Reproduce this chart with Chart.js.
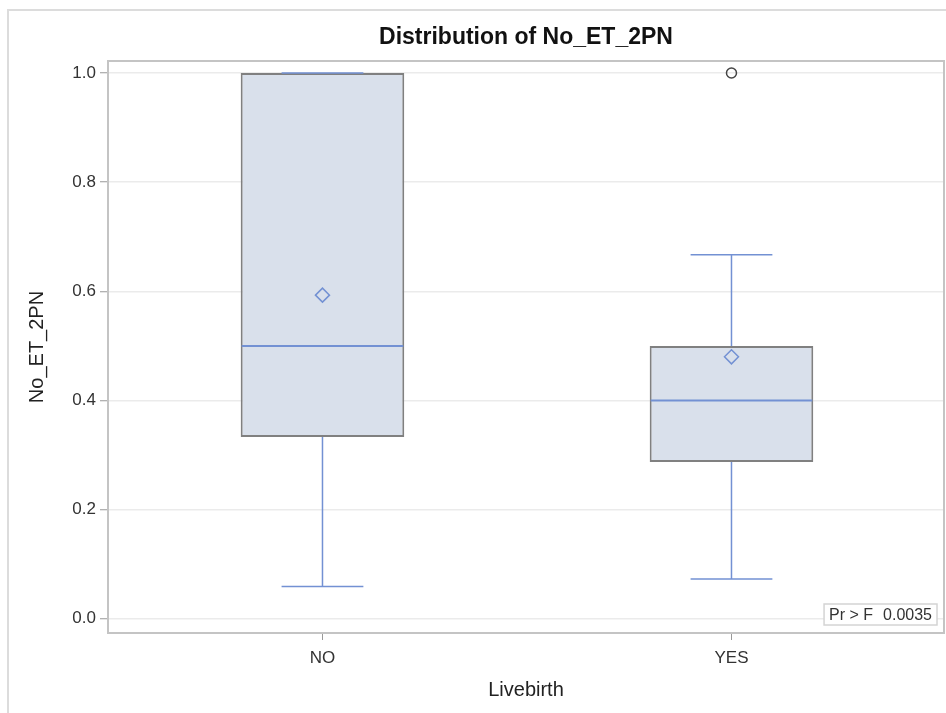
<!DOCTYPE html>
<html>
<head>
<meta charset="utf-8">
<script src="https://cdn.jsdelivr.net/npm/chart.js@4/dist/chart.umd.min.js"></script>
<style>
  html, body { margin: 0; padding: 0; background: #fff; }
  #wrap { position: relative; width: 946px; height: 713px; overflow: hidden; }
  #frame {
    position: absolute; left: 7px; top: 9px; width: 960px; height: 720px;
    border-top: 2px solid #dcdcdc; border-left: 2px solid #dcdcdc;
  }
  #boxChart { position: absolute; left: 0; top: 0; }
</style>
</head>
<body>
<div id="wrap">
  <div id="frame"></div>
  <canvas id="boxChart" width="946" height="713"></canvas>
</div>
<script>
// values
const groups = ["NO", "YES"];
const q1 = [0.333, 0.2875];
const q3 = [1.0, 0.5];
const medians = [0.5, 0.4];
const means = [0.593, 0.48];
const whiskerLow = [0.059, 0.073];
const whiskerHigh = [1.0, 0.667];
const outliers = [null, 1.0];
const yTicks = [0.0, 0.2, 0.4, 0.6, 0.8, 1.0];
const insetLabel = "Pr > F";
const insetValue = "0.0035";

const lineBlue = "#7391d3";
const fontFamily = "'Liberation Sans', Arial, sans-serif";

// whiskers, caps and median lines, drawn right after the boxes
const boxLinesPlugin = {
  id: "boxLines",
  afterDatasetDraw: (chart, args) => {
    if (args.meta.type !== "bar") return;
    const ctx = chart.ctx;
    const x = chart.scales.x;
    const y = chart.scales.y;
    ctx.save();
    ctx.strokeStyle = lineBlue;
    groups.forEach((g, i) => {
      const cx = x.getPixelForValue(i);
      const half = args.meta.data[i].width / 2;
      const cap = half * 0.5;
      // median
      ctx.lineWidth = 2;
      ctx.beginPath();
      ctx.moveTo(cx - half + 1, y.getPixelForValue(medians[i]));
      ctx.lineTo(cx + half - 1, y.getPixelForValue(medians[i]));
      ctx.stroke();
      // whiskers and caps
      ctx.lineWidth = 1.5;
      ctx.beginPath();
      ctx.moveTo(cx, y.getPixelForValue(q1[i]));
      ctx.lineTo(cx, y.getPixelForValue(whiskerLow[i]));
      ctx.moveTo(cx - cap, y.getPixelForValue(whiskerLow[i]));
      ctx.lineTo(cx + cap, y.getPixelForValue(whiskerLow[i]));
      ctx.moveTo(cx, y.getPixelForValue(q3[i]));
      ctx.lineTo(cx, y.getPixelForValue(whiskerHigh[i]));
      ctx.moveTo(cx - cap, y.getPixelForValue(whiskerHigh[i]));
      ctx.lineTo(cx + cap, y.getPixelForValue(whiskerHigh[i]));
      ctx.stroke();
    });
    ctx.restore();
  },
};

// plot frame and the Pr > F inset
const frameInsetPlugin = {
  id: "frameInset",
  afterDraw: (chart) => {
    const ctx = chart.ctx;
    const { left, right, top, bottom } = chart.chartArea;
    ctx.save();
    ctx.strokeStyle = "#c4c4c4";
    ctx.lineWidth = 2;
    ctx.strokeRect(left, top, right - left, bottom - top);

    ctx.font = "16px " + fontFamily;
    const w1 = ctx.measureText(insetLabel).width;
    const w2 = ctx.measureText(insetValue).width;
    const gap = 10;
    const boxW = w1 + gap + w2 + 10;
    const boxH = 21;
    const bx = right - 7 - boxW;
    const by = bottom - 8 - boxH;
    ctx.fillStyle = "#fff";
    ctx.fillRect(bx, by, boxW, boxH);
    ctx.strokeStyle = "#d4d4d4";
    ctx.lineWidth = 1.5;
    ctx.strokeRect(bx, by, boxW, boxH);
    ctx.fillStyle = "#333";
    ctx.textBaseline = "middle";
    ctx.fillText(insetLabel, bx + 5, by + boxH / 2 + 1);
    ctx.fillText(insetValue, bx + 5 + w1 + gap, by + boxH / 2 + 1);
    ctx.restore();
  },
};

const ctx = document.getElementById("boxChart").getContext("2d");
new Chart(ctx, {
  data: {
    datasets: [
      {
        type: "bar",
        label: "IQR",
        data: groups.map((g, i) => ({ x: i, y: [q1[i], q3[i]] })),
        backgroundColor: "#d9e0eb",
        borderColor: "#808080",
        borderWidth: 2,
        borderSkipped: false,
        barPercentage: 0.4,
        categoryPercentage: 1,
        order: 3,
      },
      {
        type: "line",
        label: "Mean",
        data: groups.map((g, i) => ({ x: i, y: means[i] })),
        showLine: false,
        pointStyle: "rectRot",
        pointRadius: 7,
        pointBorderWidth: 1.5,
        pointBorderColor: lineBlue,
        pointBackgroundColor: "rgba(0,0,0,0)",
        order: 1,
      },
      {
        type: "line",
        label: "Outlier",
        data: groups.map((g, i) => ({ x: i, y: outliers[i] })),
        showLine: false,
        pointStyle: "circle",
        pointRadius: 5,
        pointBorderWidth: 1.5,
        pointBorderColor: "#444",
        pointBackgroundColor: "rgba(0,0,0,0)",
        order: 1,
      },
    ],
  },
  plugins: [boxLinesPlugin, frameInsetPlugin],
  options: {
    responsive: false,
    animation: false,
    devicePixelRatio: 1,
    layout: { autoPadding: false, padding: { left: 0, right: 2, top: 0, bottom: 0 } },
    plugins: {
      legend: { display: false },
      tooltip: { enabled: false },
      title: {
        display: true,
        text: "Distribution of No_ET_2PN",
        fullSize: false,
        color: "#111",
        font: { family: fontFamily, size: 23, weight: "bold" },
        padding: { top: 24, bottom: 9.4 },
      },
    },
    scales: {
      x: {
        type: "linear",
        offset: false,
        min: -0.5244,
        max: 1.5196,
        afterFit: (scale) => {
          scale.height = 80;
          scale.paddingLeft = 0;
          scale.paddingRight = 0;
        },
        afterBuildTicks: (scale) => {
          scale.ticks = groups.map((g, i) => ({ value: i }));
        },
        grid: {
          display: true,
          offset: false,
          drawOnChartArea: false,
          tickLength: 7,
          tickColor: "#999",
        },
        border: { display: false },
        ticks: {
          color: "#333",
          padding: 8,
          font: { family: fontFamily, size: 17 },
          callback: (v) => groups[v],
        },
        title: {
          display: true,
          text: "Livebirth",
          color: "#222",
          font: { family: fontFamily, size: 20 },
          padding: { bottom: 11 },
        },
      },
      y: {
        type: "linear",
        min: -0.026,
        max: 1.022,
        afterFit: (scale) => { scale.width = 108; },
        afterBuildTicks: (scale) => {
          scale.ticks = yTicks.map((v) => ({ value: v }));
        },
        grid: {
          color: "#ebebeb",
          lineWidth: 1.5,
          tickLength: 8,
          tickColor: "#999",
          tickWidth: 1,
        },
        border: { display: false },
        ticks: {
          color: "#333",
          padding: 4,
          font: { family: fontFamily, size: 17 },
          callback: (v) => Number(v).toFixed(1),
        },
        title: {
          display: true,
          text: "No_ET_2PN",
          color: "#222",
          font: { family: fontFamily, size: 20 },
          padding: { top: 25 },
        },
      },
    },
  },
});
</script>
</body>
</html>
